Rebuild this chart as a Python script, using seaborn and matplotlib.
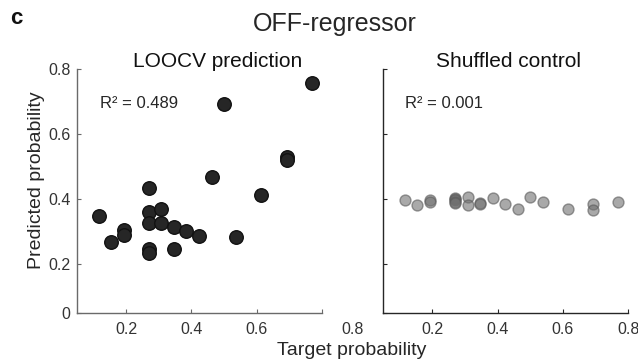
import matplotlib
matplotlib.use("Agg")
import matplotlib.pyplot as plt
import seaborn as sns
import pandas as pd

# ---- data ----
target = [0.115, 0.154, 0.192, 0.192, 0.269, 0.269, 0.269, 0.269, 0.269,
          0.308, 0.308, 0.346, 0.346, 0.385, 0.423, 0.462, 0.500, 0.538,
          0.615, 0.692, 0.692, 0.769]
loocv_pred = [0.346, 0.267, 0.305, 0.290, 0.433, 0.359, 0.327, 0.247, 0.234,
              0.368, 0.326, 0.312, 0.246, 0.300, 0.287, 0.467, 0.690, 0.282,
              0.413, 0.528, 0.520, 0.756]
shuffled_pred = [0.397, 0.380, 0.395, 0.389, 0.402, 0.398, 0.395, 0.390, 0.387,
                 0.406, 0.382, 0.386, 0.383, 0.401, 0.384, 0.370, 0.406, 0.391,
                 0.368, 0.385, 0.364, 0.389]
r2_values = ["0.489", "0.001"]
panel_titles = ["LOOCV prediction", "Shuffled control"]
xtick_vals = [0.2, 0.4, 0.6, 0.8]
xtick_labels = ["0.2", "0.4", "0.6", "0.8"]
ytick_vals = [0.05, 0.2, 0.4, 0.6, 0.8]
ytick_labels = ["0", "0.2", "0.4", "0.6", "0.8"]

df = pd.DataFrame({"target": target, "loocv": loocv_pred, "shuffled": shuffled_pred})

sns.set_style("ticks")
plt.rcParams["font.family"] = ["Liberation Sans", "DejaVu Sans"]

fig = plt.figure(figsize=(6.38, 3.59), dpi=100)
ax1 = fig.add_axes([0.1212, 0.129, 0.3831, 0.680])
ax2 = fig.add_axes([0.6008, 0.129, 0.384, 0.680])

sns.scatterplot(data=df, x="target", y="loocv", ax=ax1, s=95,
                color="#262626", edgecolor="#111111", linewidth=1.0, zorder=3)
sns.scatterplot(data=df, x="target", y="shuffled", ax=ax2, s=62,
                color="#707070", alpha=0.6, edgecolor="#5a5a5a", linewidth=1.0, zorder=3)

for ax, spc in ((ax1, "#6a6a6a"), (ax2, "#262626")):
    ax.set_xlim(0.05, 0.8)
    ax.set_ylim(0.05, 0.8)
    ax.set_xlabel("")
    ax.set_ylabel("")
    for s in ("top", "right"):
        ax.spines[s].set_visible(False)
    for s in ("left", "bottom"):
        ax.spines[s].set_color(spc)
        ax.spines[s].set_linewidth(1.0)
    ax.tick_params(direction="in", length=3, width=0.8, color=spc,
                   labelsize=11.5, labelcolor="#333333", pad=5)
    ax.set_xticks(xtick_vals)
    ax.set_yticks(ytick_vals)

ax1.set_xticklabels(xtick_labels[:-1] + [""])
ax1.set_yticklabels(ytick_labels)
ax1.tick_params(axis="x", pad=7)
ax2.set_xticklabels(xtick_labels)
ax2.tick_params(axis="x", pad=7)
ax2.set_yticklabels([""] * len(ytick_vals))

# displaced last tick label of the left panel (as in the reference)
ax1.annotate(xtick_labels[-1], xy=(xtick_vals[-1], 0), xycoords=("data", "axes fraction"),
             xytext=(22.3, -7), textcoords="offset points", ha="center", va="top",
             fontsize=11.5, color="#333333")

# texts
fig.text(0.0255, 0.9476, "c", fontsize=16, fontweight="bold", ha="center", va="center", color="#111111")
fig.text(0.525, 0.933, "OFF-regressor", fontsize=18, ha="center", va="center", color="#262626")
fig.text(218 / 638, 1 - 67 / 359, panel_titles[0], fontsize=15, ha="center", va="baseline", color="#111111")
fig.text(508.7 / 638, 1 - 67 / 359, panel_titles[1], fontsize=15, ha="center", va="baseline", color="#111111")
fig.text(100 / 638, 1 - 103 / 359, "R\u00b2 = " + r2_values[0], fontsize=12, ha="left", va="center", color="#262626")
fig.text(405 / 638, 1 - 103 / 359, "R\u00b2 = " + r2_values[1], fontsize=12, ha="left", va="center", color="#262626")
fig.text(351.3 / 638, 1 - 355 / 359, "Target probability", fontsize=14, ha="center", va="baseline", color="#262626")
fig.text(37 / 638, 1 - 180 / 359, "Predicted probability", fontsize=14, rotation=90,
         ha="center", va="center", color="#262626")

fig.savefig("out.png", dpi=100)
